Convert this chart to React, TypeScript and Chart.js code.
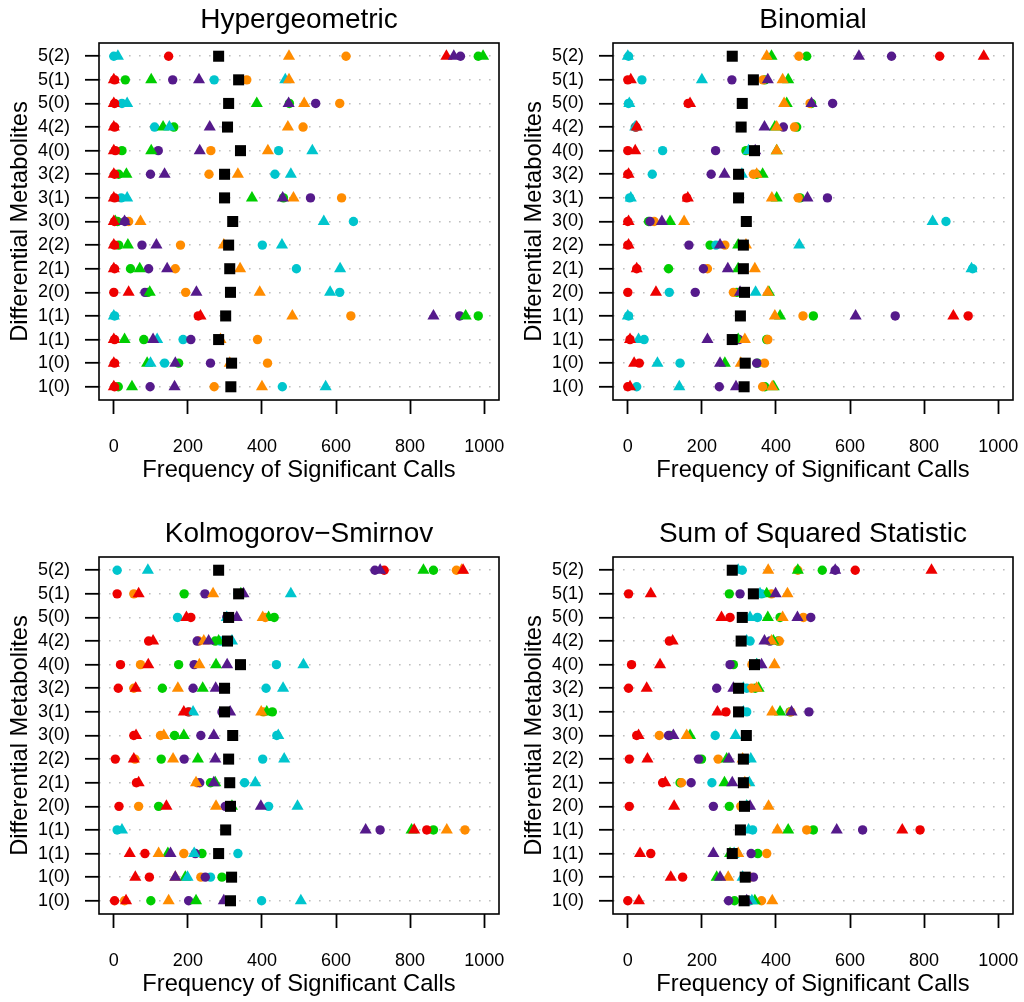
import React, { useEffect, useRef } from "react";
import { Chart, registerables } from "chart.js";

Chart.register(...registerables);

const FONT = "'Liberation Sans', Arial, Helvetica, sans-serif";

// Row labels, top to bottom
const rowLabels = ["5(2)", "5(1)", "5(0)", "4(2)", "4(0)", "3(2)", "3(1)", "3(0)", "2(2)", "2(1)", "2(0)", "1(1)", "1(1)", "1(0)", "1(0)"];
const xTicks = [0, 200, 400, 600, 800, 1000];
const xAxisLabel = "Frequency of Significant Calls";
const yAxisLabel = "Differential Metabolites";

// ---------- Hypergeometric ----------
const hgBlack = [283, 337, 310, 307, 342, 299, 299, 321, 310, 313, 315, 302, 283, 318, 316];
const hgRedC = [148, 2, 2, 2, 4, 2, 2, 2, 2, 2, 0, 228, 2, 2, 2];
const hgRedT = [898, 0, 0, 0, 0, 0, 0, 0, 0, 0, 40, 234, 0, 0, 0];
const hgOrangeC = [627, 359, 610, 511, 262, 257, 615, 40, 180, 166, 194, 640, 388, 415, 271];
const hgOrangeT = [473, 473, 514, 470, 416, 335, 485, 72, 297, 341, 394, 482, 288, 313, 400];
const hgGreenC = [984, 31, 474, 162, 22, 13, 458, 10, 13, 45, 92, 984, 81, 175, 12];
const hgGreenT = [997, 101, 386, 133, 101, 34, 373, 4, 38, 70, 97, 950, 29, 90, 49];
const hgCyanC = [0, 271, 22, 110, 445, 435, 20, 647, 401, 493, 610, 2, 187, 137, 455];
const hgCyanT = [11, 463, 36, 150, 536, 478, 36, 567, 454, 611, 584, 0, 117, 99, 572];
const hgPurpleC = [936, 159, 545, 304, 120, 99, 531, 30, 76, 94, 84, 934, 208, 261, 98];
const hgPurpleT = [918, 230, 472, 259, 232, 137, 456, 29, 115, 144, 223, 863, 106, 166, 164];

// ---------- Binomial ----------
const bnBlack = [282, 339, 309, 306, 342, 299, 299, 320, 312, 312, 315, 304, 282, 317, 314];
const bnRedC = [842, 0, 163, 22, 0, 0, 159, 0, 0, 24, 0, 919, 6, 31, 0];
const bnRedT = [961, 8, 168, 24, 20, 2, 162, 2, 2, 24, 76, 879, 6, 17, 6];
const bnOrangeC = [462, 365, 492, 450, 330, 339, 460, 71, 262, 215, 285, 473, 378, 369, 364];
const bnOrangeT = [375, 418, 422, 402, 402, 348, 389, 152, 319, 343, 378, 397, 316, 305, 390];
const bnGreenC = [483, 370, 496, 456, 319, 348, 465, 56, 222, 110, 294, 501, 375, 350, 370];
const bnGreenT = [388, 433, 429, 397, 402, 364, 402, 114, 298, 298, 381, 411, 298, 262, 394];
const bnCyanC = [2, 38, 2, 20, 94, 66, 5, 859, 238, 931, 112, 2, 44, 141, 24];
const bnCyanT = [0, 200, 4, 20, 326, 308, 8, 823, 463, 928, 345, 0, 29, 80, 139];
const bnPurpleC = [712, 281, 553, 420, 237, 225, 539, 60, 165, 204, 182, 722, 300, 348, 247];
const bnPurpleT = [624, 378, 496, 369, 344, 261, 485, 92, 249, 270, 303, 615, 215, 249, 292];

// ---------- Kolmogorov-Smirnov ----------
const ksBlack = [283, 337, 310, 307, 342, 299, 299, 321, 310, 313, 315, 302, 283, 318, 315];
const ksRedC = [730, 9, 208, 94, 18, 12, 202, 54, 4, 61, 14, 845, 84, 96, 2];
const ksRedT = [943, 67, 196, 106, 93, 59, 189, 60, 54, 67, 142, 811, 43, 58, 33];
const ksOrangeC = [925, 54, 409, 229, 72, 54, 404, 126, 57, 225, 67, 948, 189, 235, 29];
const ksOrangeT = [939, 268, 402, 243, 231, 173, 398, 135, 160, 222, 276, 899, 121, 166, 148];
const ksGreenC = [863, 190, 433, 274, 175, 131, 428, 164, 128, 261, 121, 863, 238, 292, 100];
const ksGreenT = [836, 343, 418, 283, 276, 240, 413, 189, 227, 274, 319, 804, 146, 193, 222];
const ksCyanC = [9, 335, 172, 288, 439, 411, 202, 440, 402, 353, 418, 9, 335, 261, 399];
const ksCyanT = [92, 478, 305, 319, 512, 457, 214, 444, 460, 382, 496, 22, 217, 199, 505];
const ksPurpleC = [705, 246, 305, 225, 217, 214, 292, 235, 190, 232, 301, 719, 220, 247, 202];
const ksPurpleT = [719, 350, 332, 256, 306, 275, 314, 270, 274, 270, 397, 680, 153, 166, 297];

// ---------- Sum of Squared Statistic ----------
const ssBlack = [282, 339, 309, 306, 342, 299, 299, 320, 312, 312, 315, 304, 282, 317, 314];
const ssRedC = [614, 2, 276, 112, 10, 2, 265, 24, 4, 94, 4, 789, 62, 148, 0];
const ssRedT = [820, 62, 253, 121, 87, 51, 242, 29, 53, 101, 125, 741, 33, 116, 30];
const ssOrangeC = [459, 388, 474, 409, 335, 334, 440, 85, 244, 145, 305, 483, 375, 330, 361];
const ssOrangeT = [379, 431, 418, 388, 396, 348, 390, 159, 310, 316, 380, 404, 298, 271, 390];
const ssGreenC = [525, 274, 411, 406, 285, 344, 438, 114, 199, 141, 274, 501, 351, 321, 288];
const ssGreenT = [459, 375, 378, 393, 348, 353, 411, 168, 267, 261, 321, 433, 276, 240, 343];
const ssCyanC = [309, 361, 350, 330, 339, 321, 321, 236, 321, 227, 307, 337, 294, 326, 330];
const ssCyanT = [298, 357, 330, 321, 348, 312, 312, 291, 332, 328, 321, 326, 287, 310, 335];
const ssPurpleC = [560, 303, 494, 384, 276, 240, 489, 110, 191, 171, 231, 634, 333, 339, 272];
const ssPurpleT = [560, 399, 458, 369, 361, 285, 442, 123, 273, 282, 330, 564, 231, 249, 321];

const RED = "#EE0000";
const ORANGE = "#FF8C00";
const GREEN = "#00CD00";
const CYAN = "#00C5CD";
const PURPLE = "#551A8B";
const BLACK = "#000000";

type Shape = "rect" | "triangle" | "circle";
type Series = { values: number[]; color: string; shape: Shape };

// first entry is drawn on top
function makeSeries(
  black: number[], redC: number[], redT: number[], orC: number[], orT: number[],
  grC: number[], grT: number[], cyC: number[], cyT: number[], puC: number[], puT: number[]
): Series[] {
  return [
    { values: black, color: BLACK, shape: "rect" },
    { values: puT, color: PURPLE, shape: "triangle" },
    { values: redT, color: RED, shape: "triangle" },
    { values: orT, color: ORANGE, shape: "triangle" },
    { values: cyT, color: CYAN, shape: "triangle" },
    { values: grT, color: GREEN, shape: "triangle" },
    { values: puC, color: PURPLE, shape: "circle" },
    { values: redC, color: RED, shape: "circle" },
    { values: orC, color: ORANGE, shape: "circle" },
    { values: cyC, color: CYAN, shape: "circle" },
    { values: grC, color: GREEN, shape: "circle" },
  ];
}

type PanelSpec = { title: string; left: number; top: number; width: number; height: number; series: Series[] };

const panels: PanelSpec[] = [
  { title: "Hypergeometric", left: 0, top: 0, width: 512, height: 501,
    series: makeSeries(hgBlack, hgRedC, hgRedT, hgOrangeC, hgOrangeT, hgGreenC, hgGreenT, hgCyanC, hgCyanT, hgPurpleC, hgPurpleT) },
  { title: "Binomial", left: 514, top: 0, width: 510, height: 501,
    series: makeSeries(bnBlack, bnRedC, bnRedT, bnOrangeC, bnOrangeT, bnGreenC, bnGreenT, bnCyanC, bnCyanT, bnPurpleC, bnPurpleT) },
  { title: "Kolmogorov\u2212Smirnov", left: 0, top: 514, width: 512, height: 488,
    series: makeSeries(ksBlack, ksRedC, ksRedT, ksOrangeC, ksOrangeT, ksGreenC, ksGreenT, ksCyanC, ksCyanT, ksPurpleC, ksPurpleT) },
  { title: "Sum of Squared Statistic", left: 514, top: 514, width: 510, height: 488,
    series: makeSeries(ssBlack, ssRedC, ssRedT, ssOrangeC, ssOrangeT, ssGreenC, ssGreenT, ssCyanC, ssCyanT, ssPurpleC, ssPurpleT) },
];

const boxPlugin = {
  id: "plotBox",
  afterDatasetsDraw(chart: any) {
    const { ctx, chartArea } = chart;
    ctx.save();
    ctx.strokeStyle = "#000";
    ctx.lineWidth = 1.6;
    ctx.strokeRect(chartArea.left, chartArea.top, chartArea.right - chartArea.left, chartArea.bottom - chartArea.top);
    ctx.restore();
  },
};

const PLOT_LEFT = 99;
const PLOT_RIGHT = 499;
const PLOT_BOTTOM = 400;
const AXIS_TITLE_SIZE = 23.7;

function Panel({ p }: { p: PanelSpec }) {
  const ref = useRef<HTMLCanvasElement>(null);
  useEffect(() => {
    const H = p.height;
    const n = rowLabels.length;
    const chart = new Chart(ref.current as HTMLCanvasElement, {
      type: "scatter",
      data: {
        datasets: p.series.map((s) => ({
          data: s.values.map((v, i) => ({ x: v, y: n - i })),
          pointStyle: s.shape,
          pointRadius: s.shape === "circle" ? 4.7 : s.shape === "triangle" ? 7 : 7.8,
          pointHoverRadius: s.shape === "circle" ? 4.7 : s.shape === "triangle" ? 7 : 7.8,
          pointBackgroundColor: s.color,
          pointBorderColor: s.color,
          pointBorderWidth: 0,
          showLine: false,
        })),
      },
      options: {
        responsive: false,
        animation: false,
        events: [],
        layout: { padding: { left: 0, top: 0, right: p.width - PLOT_RIGHT, bottom: 0 } },
        plugins: {
          legend: { display: false },
          tooltip: { enabled: false },
          title: {
            display: true,
            text: p.title,
            fullSize: false,
            color: "#000",
            font: { family: FONT, size: 28, weight: "normal", lineHeight: 1 },
            padding: { top: 6, bottom: 9 },
          },
        },
        scales: {
          x: {
            type: "linear",
            min: -40,
            max: 1040,
            afterBuildTicks: (scale: any) => {
              scale.ticks = xTicks.map((v) => ({ value: v }));
            },
            afterFit: (scale: any) => {
              scale.height = H - PLOT_BOTTOM;
              scale.paddingLeft = 0;
              scale.paddingRight = 0;
            },
            ticks: {
              autoSkip: false,
              maxRotation: 0,
              color: "#000",
              padding: 22,
              font: { family: FONT, size: 18 },
              callback: (v: any) => String(v),
            },
            grid: {
              display: true,
              drawOnChartArea: false,
              drawTicks: true,
              tickLength: 14,
              tickColor: "#000",
              tickWidth: 1.8,
              tickBorderDash: [],
            },
            border: { display: false },
            title: {
              display: true,
              text: xAxisLabel,
              color: "#000",
              font: { family: FONT, size: AXIS_TITLE_SIZE, lineHeight: 1 },
              padding: { top: 0, bottom: H - 470 - AXIS_TITLE_SIZE / 2 },
            },
          },
          y: {
            type: "linear",
            min: 0.44,
            max: n + 0.56,
            afterBuildTicks: (scale: any) => {
              scale.ticks = rowLabels.map((_, i) => ({ value: i + 1 }));
            },
            afterFit: (scale: any) => {
              scale.width = PLOT_LEFT;
              scale.paddingTop = 0;
              scale.paddingBottom = 0;
            },
            ticks: {
              autoSkip: false,
              color: "#000",
              padding: 15,
              font: { family: FONT, size: 18 },
              callback: (v: any) => rowLabels[n - Number(v)],
            },
            grid: {
              display: true,
              drawOnChartArea: true,
              drawTicks: true,
              color: "#BEBEBE",
              lineWidth: 1.6,
              tickLength: 14,
              tickColor: "#000",
              tickWidth: 1.8,
              tickBorderDash: [],
            },
            border: { display: false, dash: [1.6, 8.4] },
            title: {
              display: true,
              text: yAxisLabel,
              color: "#000",
              font: { family: FONT, size: AXIS_TITLE_SIZE, lineHeight: 1 },
              padding: { top: 20.5 - AXIS_TITLE_SIZE / 2, bottom: 0 },
            },
          },
        },
      } as any,
      plugins: [boxPlugin],
    });
    return () => chart.destroy();
  }, [p]);
  return (
    <canvas
      ref={ref}
      width={p.width}
      height={p.height}
      style={{ position: "absolute", left: p.left, top: p.top, width: p.width, height: p.height }}
    />
  );
}

export default function App() {
  return (
    <div
      style={{
        position: "absolute",
        left: 0,
        top: 0,
        width: 1024,
        height: 1002,
        background: "#fff",
        overflow: "hidden",
      }}
    >
      {panels.map((p) => (
        <Panel key={p.title} p={p} />
      ))}
    </div>
  );
}
